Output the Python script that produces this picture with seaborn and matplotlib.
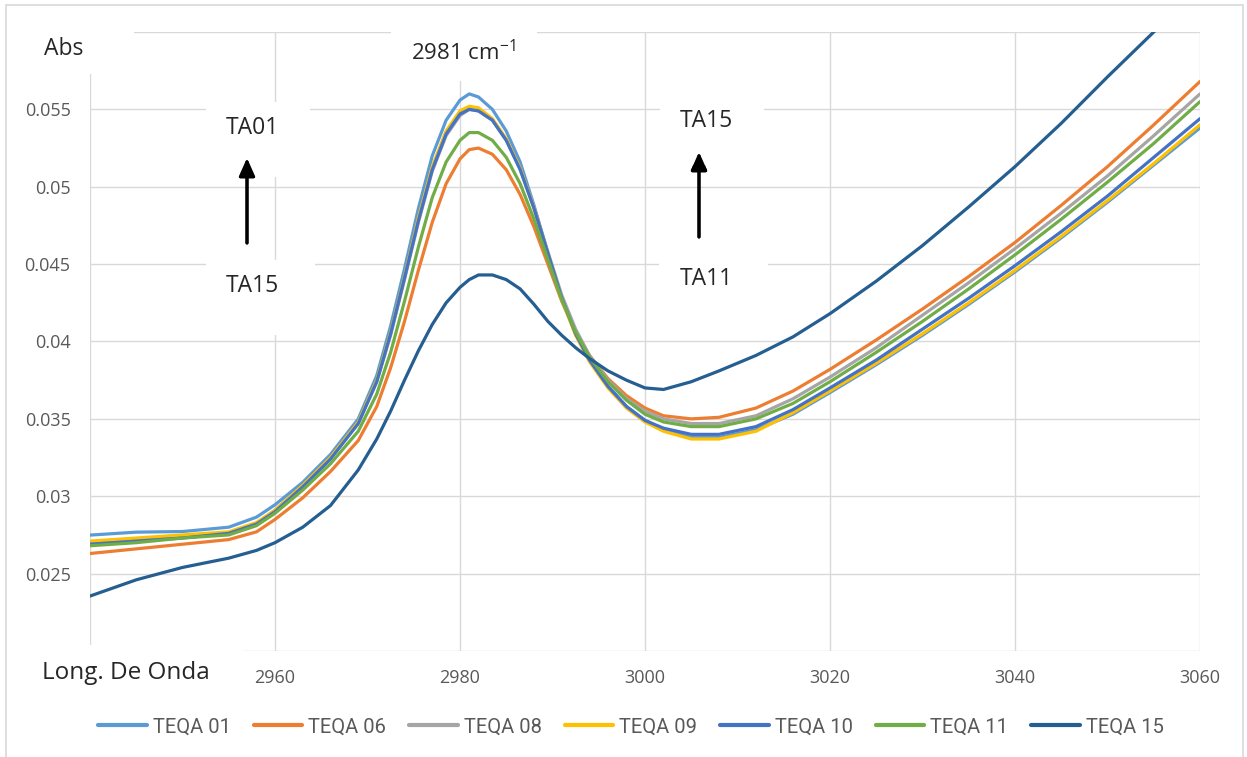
import numpy as np
import pandas as pd
import seaborn as sns
import matplotlib.pyplot as plt
from matplotlib.patches import Rectangle

# Wavenumber grid (cm-1) shared by all spectra
wavenumber = [2940, 2945, 2950, 2955, 2958, 2960, 2963, 2966, 2969, 2971,
              2972.5, 2974, 2975.5, 2977, 2978.5, 2980, 2981, 2982, 2983.5, 2985,
              2986.5, 2988, 2989.5, 2991, 2992.5, 2994, 2996, 2998, 3000, 3002,
              3005, 3008, 3012, 3016, 3020, 3025, 3030, 3035, 3040, 3045,
              3050, 3055, 3060]

teqa_01 = [0.02749, 0.02768, 0.02772, 0.02800, 0.02865, 0.02945, 0.03090, 0.03270, 0.03500, 0.03780,
           0.04100, 0.04470, 0.04860, 0.05200, 0.05430, 0.05560, 0.05600, 0.05580, 0.05500, 0.05360,
           0.05160, 0.04880, 0.04570, 0.04280, 0.04050, 0.03880, 0.03710, 0.03580, 0.03490, 0.03430,
           0.03380, 0.03380, 0.03430, 0.03530, 0.03670, 0.03850, 0.04040, 0.04240, 0.04450, 0.04670,
           0.04900, 0.05140, 0.05380]
teqa_06 = [0.02630, 0.02660, 0.02690, 0.02720, 0.02770, 0.02850, 0.02990, 0.03160, 0.03360, 0.03580,
           0.03830, 0.04130, 0.04460, 0.04770, 0.05020, 0.05180, 0.05240, 0.05250, 0.05210, 0.05110,
           0.04950, 0.04740, 0.04500, 0.04260, 0.04060, 0.03910, 0.03760, 0.03650, 0.03570, 0.03520,
           0.03500, 0.03510, 0.03570, 0.03680, 0.03820, 0.04010, 0.04210, 0.04420, 0.04640, 0.04880,
           0.05130, 0.05400, 0.05680]
teqa_08 = [0.02700, 0.02720, 0.02740, 0.02760, 0.02820, 0.02910, 0.03070, 0.03250, 0.03470, 0.03740,
           0.04040, 0.04400, 0.04770, 0.05100, 0.05330, 0.05460, 0.05500, 0.05490, 0.05430, 0.05300,
           0.05120, 0.04870, 0.04580, 0.04300, 0.04080, 0.03910, 0.03750, 0.03630, 0.03550, 0.03500,
           0.03470, 0.03470, 0.03520, 0.03630, 0.03770, 0.03960, 0.04170, 0.04380, 0.04600, 0.04830,
           0.05070, 0.05330, 0.05600]
teqa_09 = [0.02710, 0.02730, 0.02750, 0.02770, 0.02830, 0.02910, 0.03070, 0.03250, 0.03480, 0.03750,
           0.04060, 0.04420, 0.04800, 0.05130, 0.05360, 0.05490, 0.05520, 0.05510, 0.05440, 0.05310,
           0.05120, 0.04860, 0.04560, 0.04270, 0.04040, 0.03870, 0.03700, 0.03570, 0.03480, 0.03420,
           0.03370, 0.03370, 0.03420, 0.03540, 0.03680, 0.03860, 0.04050, 0.04250, 0.04460, 0.04680,
           0.04910, 0.05150, 0.05400]
teqa_10 = [0.02690, 0.02710, 0.02730, 0.02760, 0.02820, 0.02900, 0.03060, 0.03240, 0.03470, 0.03740,
           0.04050, 0.04410, 0.04780, 0.05110, 0.05340, 0.05470, 0.05500, 0.05490, 0.05430, 0.05300,
           0.05110, 0.04860, 0.04570, 0.04280, 0.04050, 0.03880, 0.03710, 0.03580, 0.03490, 0.03440,
           0.03400, 0.03400, 0.03450, 0.03560, 0.03700, 0.03880, 0.04080, 0.04280, 0.04490, 0.04710,
           0.04940, 0.05190, 0.05440]
teqa_11 = [0.02680, 0.02700, 0.02730, 0.02750, 0.02810, 0.02890, 0.03040, 0.03210, 0.03420, 0.03660,
           0.03930, 0.04260, 0.04610, 0.04930, 0.05160, 0.05300, 0.05350, 0.05350, 0.05300, 0.05190,
           0.05020, 0.04790, 0.04530, 0.04270, 0.04060, 0.03900, 0.03740, 0.03620, 0.03530, 0.03480,
           0.03450, 0.03450, 0.03500, 0.03600, 0.03740, 0.03930, 0.04130, 0.04340, 0.04560, 0.04790,
           0.05030, 0.05280, 0.05550]
teqa_15 = [0.02355, 0.02460, 0.02540, 0.02600, 0.02650, 0.02700, 0.02800, 0.02940, 0.03170, 0.03370,
           0.03550, 0.03750, 0.03940, 0.04110, 0.04250, 0.04350, 0.04400, 0.04430, 0.04430, 0.04400,
           0.04340, 0.04240, 0.04130, 0.04040, 0.03960, 0.03890, 0.03810, 0.03750, 0.03700, 0.03690,
           0.03740, 0.03810, 0.03910, 0.04030, 0.04180, 0.04390, 0.04620, 0.04870, 0.05130, 0.05410,
           0.05710, 0.06000, 0.06300]

series_names = ["TEQA 01", "TEQA 06", "TEQA 08", "TEQA 09", "TEQA 10", "TEQA 11", "TEQA 15"]
series_values = [teqa_01, teqa_06, teqa_08, teqa_09, teqa_10, teqa_11, teqa_15]
series_colors = ["#5B9BD5", "#ED7D31", "#A5A5A5", "#FFC000", "#4472C4", "#70AD47", "#255E91"]

x_ticks = [2940, 2960, 2980, 3000, 3020, 3040, 3060]
y_ticks = [0.02, 0.025, 0.03, 0.035, 0.04, 0.045, 0.05, 0.055, 0.06]

df = pd.concat(
    [pd.DataFrame({"wavenumber": wavenumber, "abs": vals, "serie": name})
     for name, vals in zip(series_names, series_values)],
    ignore_index=True,
)

sns.set_theme(style="white")
plt.rcParams["font.family"] = ["Open Sans", "DejaVu Sans"]
plt.rcParams["mathtext.default"] = "regular"

W, H = 1247, 757
fig = plt.figure(figsize=(W / 100, H / 100), dpi=100)
ax = fig.add_axes([90 / W, 1 - 651 / H, 1110 / W, 619 / H])

sns.lineplot(data=df, x="wavenumber", y="abs", hue="serie", hue_order=series_names,
             palette=dict(zip(series_names, series_colors)), linewidth=2.3,
             ax=ax, legend=False, sort=True)

ax.set_xlim(2940, 3060)
ax.set_ylim(0.02, 0.06)
ax.set_xticks(x_ticks)
ax.set_yticks(y_ticks)
# the first x label and the top y label sit under the axis-title boxes
ax.set_xticklabels([""] + [str(v) for v in x_ticks[1:]])
ax.set_yticklabels([f"{v:g}" for v in y_ticks[:-1]] + [""])
ax.set_xlabel("")
ax.set_ylabel("")
for s in ax.spines.values():
    s.set_visible(False)
ax.grid(True, color="#D9D9D9", linewidth=1.0)
ax.set_axisbelow(True)
ax.axvline(2940, color="#D9D9D9", linewidth=1.2, zorder=0.5)
ax.tick_params(axis="both", length=0, labelsize=13, labelcolor="#595959")
ax.tick_params(axis="y", pad=14)
ax.tick_params(axis="x", pad=13)


def fx(px):
    return px / W


def fy(py):
    return 1 - py / H


# chart frame
fig.patches.append(Rectangle((fx(6), fy(790)), fx(1243) - fx(6), fy(5) - fy(790),
                             transform=fig.transFigure, facecolor="none",
                             edgecolor="#D9D9D9", linewidth=1.2, zorder=0))

# white label boxes with their text: (x0, y0, x1, y1, text, text_x, text_y, size)
labels = [
    (15, 15, 134, 74, "Abs", 64, 49, 16.5),
    (391, 24, 537, 81, "2981 cm$^{-1}$", 463, 53, 16),
    (206, 102, 310, 177, "TA01", 252, 128, 16.5),
    (206, 260, 315, 335, "TA15", 252, 286, 16.5),
    (660, 96, 764, 165, "TA15", 706, 121, 16.5),
    (659, 252, 768, 320, "TA11", 706, 279, 16.5),
    (15, 645, 243, 705, "Long. De Onda", 126, 673, 17.5),
]
for x0, y0, x1, y1, txt, tx, ty, size in labels:
    fig.patches.append(Rectangle((fx(x0), fy(y1)), fx(x1) - fx(x0), fy(y0) - fy(y1),
                                 transform=fig.transFigure, facecolor="white",
                                 edgecolor="none", zorder=5))
    fig.text(fx(tx), fy(ty), txt, ha="center", va="center", fontsize=size,
             color="#262626", zorder=6)

# trend arrows
for ax_px, y_tail, y_tip in [(247, 243, 158), (699, 237, 152)]:
    fig.add_artist(plt.annotate("", xy=(fx(ax_px), fy(y_tip)), xytext=(fx(ax_px), fy(y_tail)),
                                xycoords="figure fraction", textcoords="figure fraction",
                                arrowprops=dict(arrowstyle="-|>,head_length=0.9,head_width=0.4",
                                                color="black", lw=2.2, shrinkA=0, shrinkB=0),
                                zorder=7))

handles = [plt.Line2D([], [], color=c, linewidth=3) for c in series_colors]
leg = fig.legend(handles, series_names, loc="center", bbox_to_anchor=(fx(631), fy(727)),
                 ncol=7, frameon=False, handlelength=2.4, handletextpad=0.3,
                 columnspacing=1.15,
                 prop={"family": ["Roboto", "DejaVu Sans"], "size": 14.5})
for t in leg.get_texts():
    t.set_color("#595959")

fig.savefig("out.png", dpi=100, facecolor="white")
